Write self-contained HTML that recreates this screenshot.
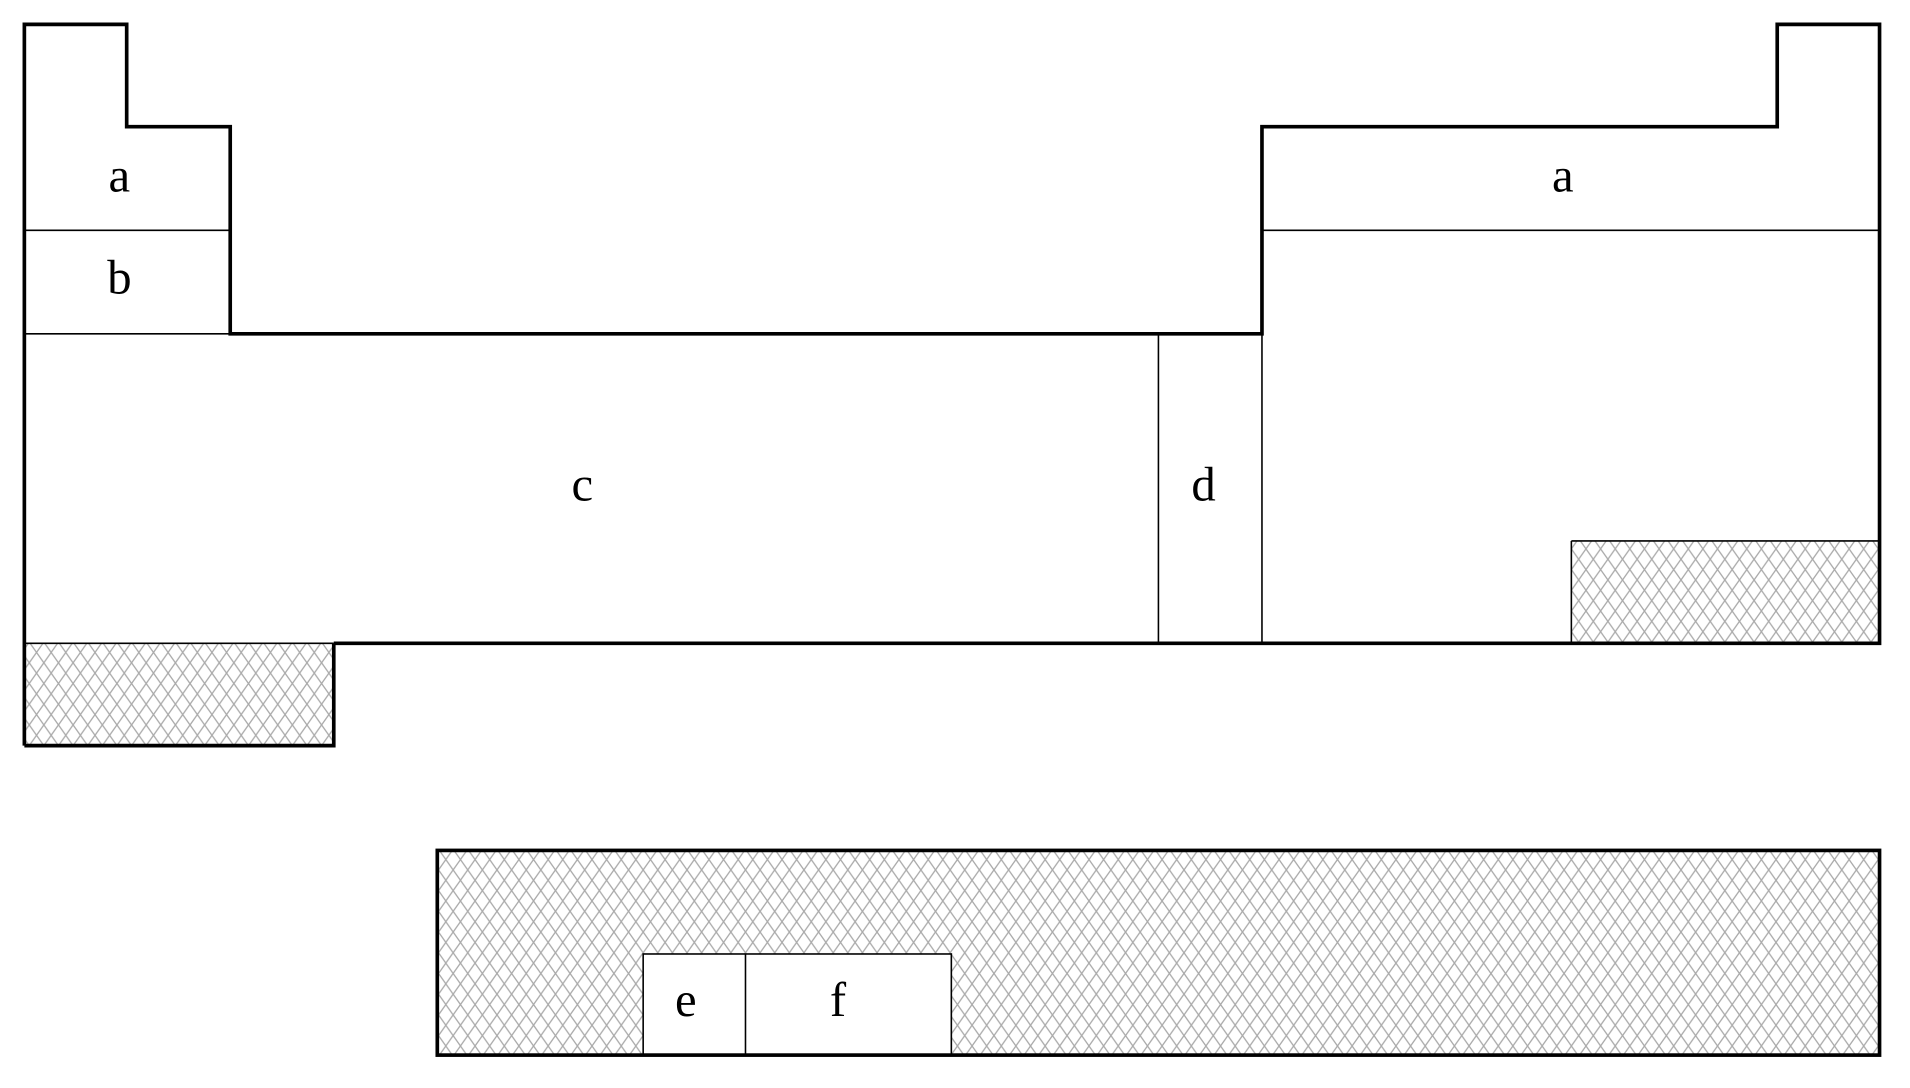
<!DOCTYPE html>
<html><head><style>html,body{margin:0;padding:0;background:#fff;}svg{display:block;}</style></head>
<body>
<svg width="1910" height="1088" viewBox="0 0 1568 893" preserveAspectRatio="none" xmlns="http://www.w3.org/2000/svg">
<defs>
<pattern id="h" width="12" height="17" patternUnits="userSpaceOnUse">
<rect width="12" height="17" fill="#fff"/>
<path d="M0,0 L12,17 M12,0 L0,17 M-6,8.5 L0,17 M6,-8.5 L12,0" stroke="#aaa" stroke-width="1.1" fill="none"/>
</pattern>
</defs>
<rect width="1568" height="893" fill="#fff"/>
<rect x="20" y="528" width="254" height="84" fill="url(#h)"/>
<rect x="1290" y="444" width="253" height="84" fill="url(#h)"/>
<rect x="359" y="698" width="1184" height="168" fill="url(#h)"/>
<rect x="528" y="783" width="253" height="83" fill="#fff"/>
<g stroke="#000" stroke-width="1.3" fill="none">
<line x1="20" y1="189" x2="189" y2="189"/>
<line x1="20" y1="274" x2="189" y2="274"/>
<line x1="1036" y1="189" x2="1543" y2="189"/>
<line x1="951" y1="274" x2="951" y2="528"/>
<line x1="1036" y1="274" x2="1036" y2="528"/>
<line x1="20" y1="528" x2="274" y2="528"/>
<line x1="1290" y1="444" x2="1543" y2="444"/>
<line x1="1290" y1="444" x2="1290" y2="528"/>
<rect x="528" y="783" width="253" height="83"/>
<line x1="612" y1="783" x2="612" y2="866"/>
</g>
<g stroke="#000" stroke-width="3" fill="none" stroke-linejoin="miter">
<path d="M20,612 L20,20 L104,20 L104,104 L189,104 L189,274 L1036,274 L1036,104 L1459,104 L1459,20 L1543,20 L1543,528 L274,528"/>
<path d="M20,612 L274,612 L274,528"/>
<rect x="359" y="698" width="1184" height="168"/>
</g>
<g font-family="Liberation Serif, serif" font-size="40" text-anchor="middle" fill="#000">
<text x="98" y="157">a</text>
<text x="98" y="241">b</text>
<text x="478" y="411">c</text>
<text x="988" y="411">d</text>
<text x="1283" y="157">a</text>
<text x="563" y="834">e</text>
<text x="688" y="834">f</text>
</g>
</svg>
</body></html>
